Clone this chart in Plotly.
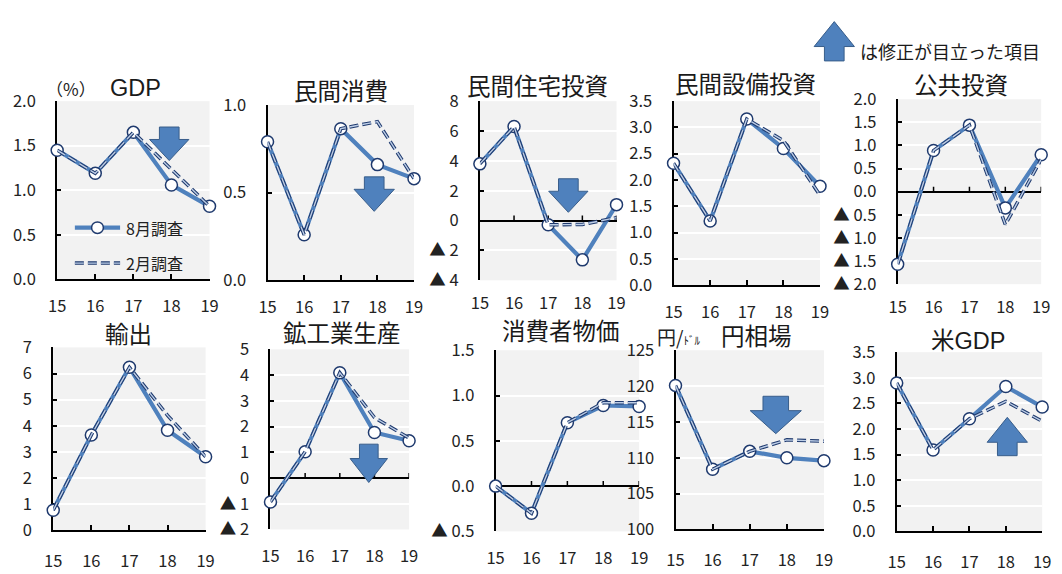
import plotly.graph_objects as go

W, H = 1062, 574

# ---- data -------------------------------------------------------------
years = [15, 16, 17, 18, 19]
year_labels = ["15", "16", "17", "18", "19"]

gdp_aug = [1.45, 1.19, 1.65, 1.06, 0.82]
gdp_feb = [1.45, 1.19, 1.65, 1.24, 0.82]
cons_aug = [0.79, 0.26, 0.865, 0.66, 0.58]
cons_feb = [0.79, 0.26, 0.865, 0.905, 0.58]
housing_aug = [3.8, 6.3, -0.28, -2.63, 1.07]
housing_feb = [3.8, 6.3, -0.28, -0.26, 0.2]
capex_aug = [2.32, 1.22, 3.16, 2.60, 1.88]
capex_feb = [2.32, 1.22, 3.16, 2.75, 1.71]
public_aug = [-1.57, 0.89, 1.44, -0.35, 0.80]
public_feb = [-1.57, 0.89, 1.44, -0.71, 0.70]
exports_aug = [0.77, 3.65, 6.24, 3.83, 2.82]
exports_feb = [0.77, 3.65, 6.24, 4.40, 2.82]
ip_aug = [-0.93, 1.02, 4.09, 1.77, 1.45]
ip_feb = [-0.93, 1.02, 4.09, 2.35, 1.55]
cpi_aug = [0.0, -0.30, 0.70, 0.89, 0.88]
cpi_feb = [0.0, -0.30, 0.70, 0.92, 0.92]
yen_aug = [120.1, 108.4, 110.9, 110.0, 109.6]
yen_feb = [120.1, 108.4, 110.9, 112.5, 112.3]
usgdp_aug = [2.90, 1.59, 2.20, 2.83, 2.43]
usgdp_feb = [2.90, 1.59, 2.20, 2.54, 2.15]

titles = ["GDP", "民間消費", "民間住宅投資", "民間設備投資", "公共投資",
          "輸出", "鉱工業生産", "消費者物価", "円相場", "米GDP"]

series_aug = [gdp_aug, cons_aug, housing_aug, capex_aug, public_aug,
              exports_aug, ip_aug, cpi_aug, yen_aug, usgdp_aug]
series_feb = [gdp_feb, cons_feb, housing_feb, capex_feb, public_feb,
              exports_feb, ip_feb, cpi_feb, yen_feb, usgdp_feb]

y_ticks = [
    ([0, 0.5, 1.0, 1.5, 2.0], ["0.0", "0.5", "1.0", "1.5", "2.0"]),
    ([0, 0.5, 1.0], ["0.0", "0.5", "1.0"]),
    ([-4, -2, 0, 2, 4, 6, 8], ["▲ 4", "▲ 2", "0", "2", "4", "6", "8"]),
    ([0, 0.5, 1.0, 1.5, 2.0, 2.5, 3.0, 3.5],
     ["0.0", "0.5", "1.0", "1.5", "2.0", "2.5", "3.0", "3.5"]),
    ([-2.0, -1.5, -1.0, -0.5, 0, 0.5, 1.0, 1.5, 2.0],
     ["▲ 2.0", "▲ 1.5", "▲ 1.0", "▲ 0.5", "0.0", "0.5", "1.0", "1.5", "2.0"]),
    ([0, 1, 2, 3, 4, 5, 6, 7], ["0", "1", "2", "3", "4", "5", "6", "7"]),
    ([-2, -1, 0, 1, 2, 3, 4, 5], ["▲ 2", "▲ 1", "0", "1", "2", "3", "4", "5"]),
    ([-0.5, 0, 0.5, 1.0, 1.5], ["▲ 0.5", "0.0", "0.5", "1.0", "1.5"]),
    ([100, 105, 110, 115, 120, 125], ["100", "105", "110", "115", "120", "125"]),
    ([0, 0.5, 1.0, 1.5, 2.0, 2.5, 3.0, 3.5],
     ["0.0", "0.5", "1.0", "1.5", "2.0", "2.5", "3.0", "3.5"]),
]

# ---- layout geometry (pixels: left, right, top, bottom of each plot area) --
boxes = [
    (49, 204, 92, 278), (263, 412, 96, 279), (479, 618, 92, 279),
    (676, 825, 92, 284), (904, 1050, 90, 283),
    (45, 200, 349, 540), (266, 407, 351, 539), (495, 641, 352, 541),
    (678, 829, 352, 539), (903, 1051, 354, 541),
]
title_pos = [(129, 78), (338, 82), (538, 77), (749, 75), (968, 76),
             (122, 336), (339, 335), (562, 333), (760, 338), (976, 342)]

SOLID = "#4F81BD"
NAVY = "#1F3A6E"
LIGHT = "#BCCDE6"
DASH = "9px,4px"
FONT = "Noto Sans CJK JP"
TITLEFONT = "Liberation Sans, Noto Sans CJK JP"
TICKFONT = dict(family=FONT, size=16.5, color="#222222")


def px(x):
    return x / W


def py(y):
    return 1 - y / H


fig = go.Figure()
layout = dict(
    width=W, height=H, margin=dict(l=0, r=0, t=0, b=0),
    paper_bgcolor="white", plot_bgcolor="#F2F2F2",
    showlegend=False, font=dict(family=FONT, color="#1a1a1a"),
)

shapes = []
annotations = []

for i in range(10):
    n = i + 1
    xa = "x" if n == 1 else f"x{n}"
    ya = "y" if n == 1 else f"y{n}"
    l, r, t, b = boxes[i]
    tv, tt = y_ticks[i]
    lo, hi = tv[0], tv[-1]
    crossing = lo < 0

    layout["xaxis" if n == 1 else f"xaxis{n}"] = dict(
        domain=[px(l), px(r)], anchor=ya, range=[15, 19],
        tickvals=years, ticktext=year_labels,
        showgrid=False, zeroline=False,
        showline=not crossing, linecolor="black", linewidth=2,
        ticks="" if crossing else "inside", ticklen=5, tickwidth=1.5,
        tickcolor="black", tickfont=TICKFONT,
        ticklabelstandoff=11 if n <= 5 else 15,
        fixedrange=True,
    )
    layout["yaxis" if n == 1 else f"yaxis{n}"] = dict(
        domain=[py(b), py(t)], anchor=xa, range=[lo, hi],
        tickvals=tv, ticktext=tt,
        showgrid=True, gridcolor="white", gridwidth=2,
        zeroline=crossing, zerolinecolor="black", zerolinewidth=1.5,
        showline=True, linecolor="black", linewidth=2,
        ticks="inside", ticklen=4, tickwidth=1.5, tickcolor="black",
        tickfont=TICKFONT, ticklabelstandoff=16, layer="below traces",
        fixedrange=True,
    )

    # small tick marks standing on the zero line
    if crossing:
        for yr in years[1:]:
            shapes.append(dict(
                type="line", xref=xa, yref=ya, x0=yr, x1=yr,
                ysizemode="pixel", yanchor=0, y0=0, y1=5,
                line=dict(color="black", width=1.5), layer="below",
            ))

    fig.add_trace(go.Scatter(
        x=years, y=series_aug[i], xaxis=xa, yaxis=ya, mode="lines+markers",
        line=dict(color=SOLID, width=4.2),
        marker=dict(size=12, color="white", line=dict(color=NAVY, width=1.5)),
        cliponaxis=False, hoverinfo="skip",
    ))
    fig.add_trace(go.Scatter(
        x=years, y=series_feb[i], xaxis=xa, yaxis=ya, mode="lines",
        line=dict(color=NAVY, width=3.5, dash=DASH),
        cliponaxis=False, hoverinfo="skip",
    ))
    fig.add_trace(go.Scatter(
        x=years, y=series_feb[i], xaxis=xa, yaxis=ya, mode="lines",
        line=dict(color=LIGHT, width=1.4, dash=DASH),
        cliponaxis=False, hoverinfo="skip",
    ))

    cx, cy = title_pos[i]
    annotations.append(dict(
        x=px(cx), y=py(cy), xref="paper", yref="paper", text=titles[i],
        showarrow=False, xanchor="center", yanchor="middle",
        font=dict(family=TITLEFONT, size=23.5, color="#1a1a1a"),
    ))

# unit labels
annotations.append(dict(
    x=px(63), y=py(79), xref="paper", yref="paper", text="（%）",
    showarrow=False, xanchor="center", yanchor="middle",
    font=dict(family=FONT, size=17, color="#222222"),
))
annotations.append(dict(
    x=px(657), y=py(338), xref="paper", yref="paper",
    text="円/<span style='font-size:11px'>ﾄﾞﾙ</span>",
    showarrow=False, xanchor="left", yanchor="middle",
    font=dict(family=FONT, size=19, color="#222222"),
))

# series key inside the GDP panel
annotations.append(dict(
    x=px(117), y=py(224), xref="paper", yref="paper", text="8月調査",
    showarrow=False, xanchor="left", yanchor="middle",
    font=dict(family=FONT, size=16, color="#222222"),
))
annotations.append(dict(
    x=px(117), y=py(261), xref="paper", yref="paper", text="2月調査",
    showarrow=False, xanchor="left", yanchor="middle",
    font=dict(family=FONT, size=16, color="#222222"),
))
shapes.append(dict(type="line", xref="paper", yref="paper",
                   x0=px(67), x1=px(113), y0=py(224), y1=py(224),
                   line=dict(color=SOLID, width=4.2)))
shapes.append(dict(type="circle", xref="paper", yref="paper",
                   x0=px(84), x1=px(96), y0=py(230), y1=py(218),
                   fillcolor="white", line=dict(color=NAVY, width=1.5)))
shapes.append(dict(type="line", xref="paper", yref="paper",
                   x0=px(67), x1=px(113), y0=py(261), y1=py(261),
                   line=dict(color=NAVY, width=3.5, dash=DASH)))
shapes.append(dict(type="line", xref="paper", yref="paper",
                   x0=px(67), x1=px(113), y0=py(261), y1=py(261),
                   line=dict(color=LIGHT, width=1.4, dash=DASH)))


# block arrows marking notable revisions
def block_arrow(cx, tip, base, end, head_w, shaft_w):
    hw, sw = head_w / 2, shaft_w / 2
    pts = [(cx, tip), (cx + hw, base), (cx + sw, base), (cx + sw, end),
           (cx - sw, end), (cx - sw, base), (cx - hw, base)]
    d = "M " + " L ".join(f"{px(x):.5f},{py(y):.5f}" for x, y in pts) + " Z"
    return dict(type="path", xref="paper", yref="paper", path=d,
                fillcolor="#4F81BD", line=dict(color="#385D8A", width=1))


arrows = [
    (163, 154, 132, 119, 40, 20),
    (371.5, 207, 184, 171, 41, 20),
    (569, 208, 186, 173, 40, 20),
    (366, 490, 465, 450, 38, 19),
    (780, 439, 415, 400, 52, 26),
    (1015.5, 422, 448, 462, 41, 20),
    (839.5, 9, 35, 50, 41, 20),
]
for a in arrows:
    shapes.append(block_arrow(*a))

annotations.append(dict(
    x=px(864), y=py(40), xref="paper", yref="paper", text="は修正が目立った項目",
    showarrow=False, xanchor="left", yanchor="middle",
    font=dict(family=FONT, size=18, color="#1a1a1a"),
))

layout["shapes"] = shapes
layout["annotations"] = annotations
fig.update_layout(**layout)

fig.write_html("out.html")
